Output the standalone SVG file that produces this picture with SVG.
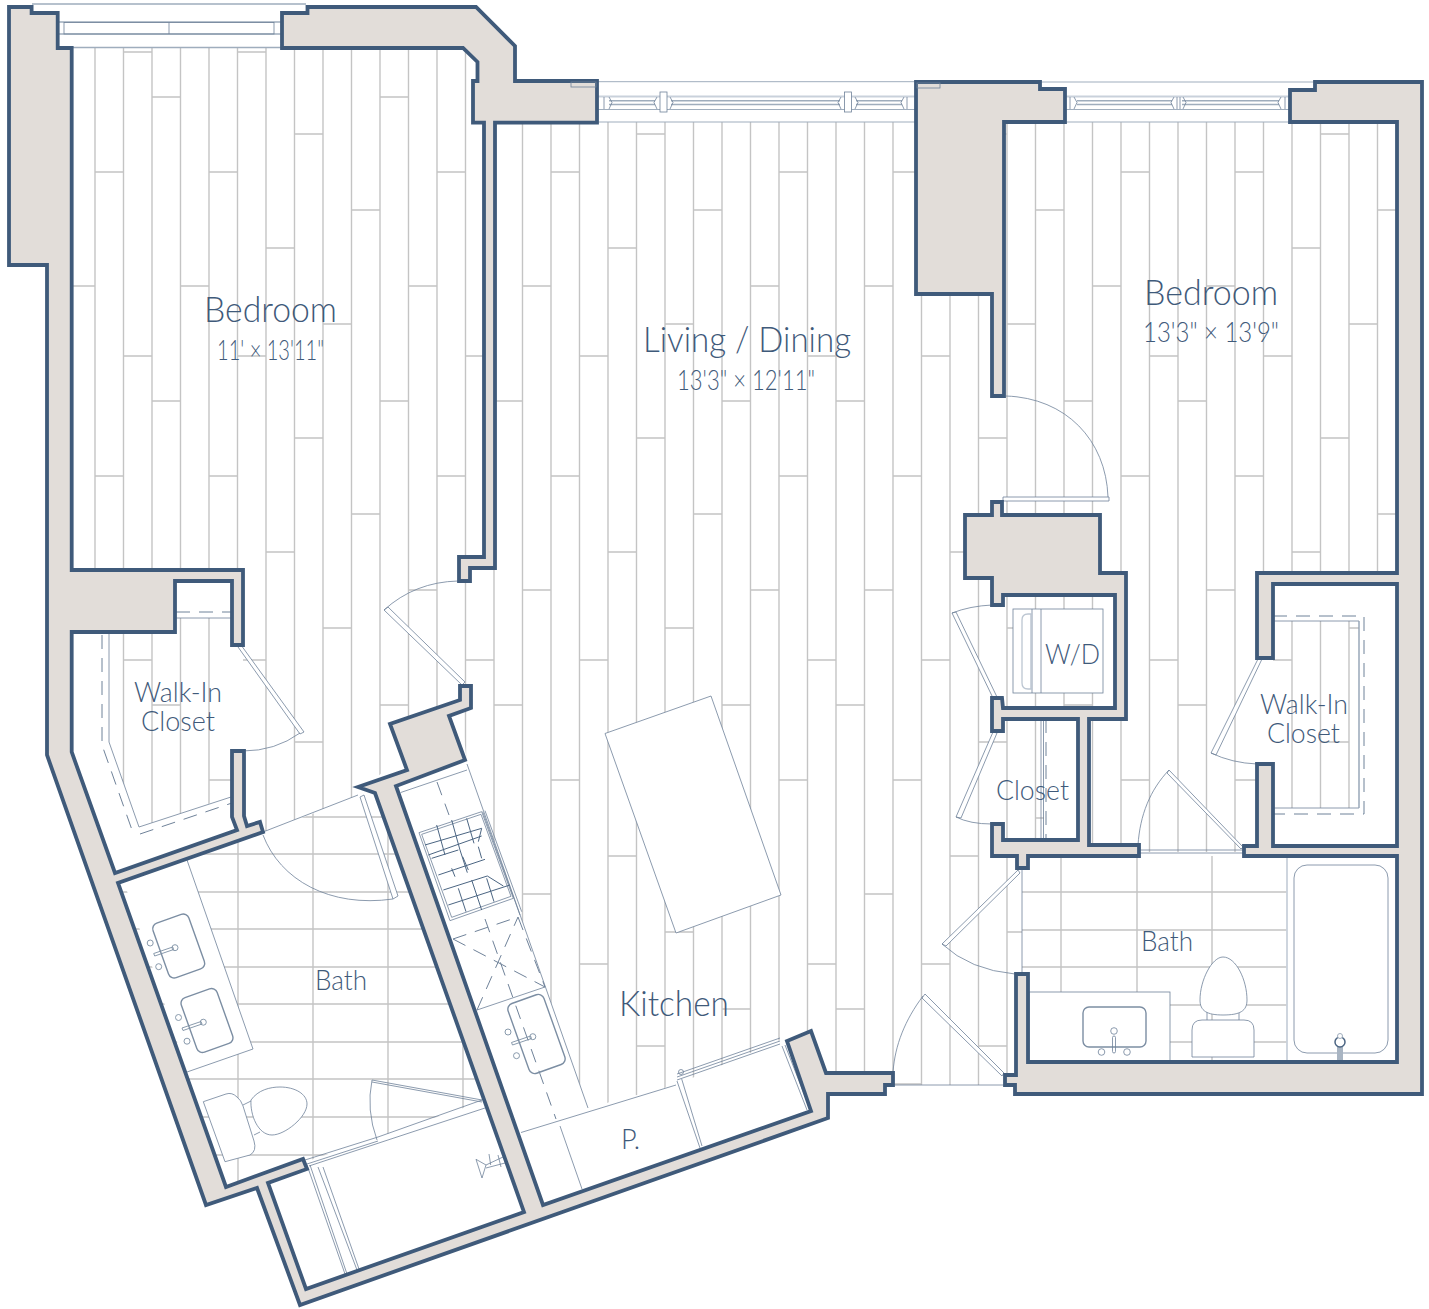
<svg xmlns="http://www.w3.org/2000/svg" width="1429" height="1309" viewBox="0 0 1429 1309">
<style>
.wall{fill:#e2ddd9;stroke:#3f5a7a;stroke-width:3.8;stroke-linejoin:miter}
.t{fill:none;stroke:#6f8299;stroke-width:.8}
.w{fill:#fff;stroke:#6f8299;stroke-width:.8}
.l{fill:none;stroke:#9fadbd;stroke-width:1}
.d{fill:none;stroke:#6f8299;stroke-width:1;stroke-dasharray:14 9}
.g{fill:none;stroke:#c4c4c4;stroke-width:1.4}
.s{fill:none;stroke:#7c8ea3;stroke-width:1.4}
text{font-family:Lato,"Liberation Sans",sans-serif;font-weight:300;fill:#3f5a7a;stroke:none}
</style>
<defs>
<pattern id="planks" patternUnits="userSpaceOnUse" x="50" y="0" width="342" height="304">
<path class="g" d="M16.5 0V304M45 0V304M73.5 0V304M102 0V304M130.5 0V304M159 0V304M187.5 0V304M216 0V304M244.5 0V304M273 0V304M301.5 0V304M330 0V304M16.5 286H45M45 172H73.5M73.5 52H102M102 97H130.5M130.5 286H159M159 172H187.5M187.5 52H216M216 248H244.5M244.5 134H273M273 20H301.5M301.5 210H330M330 97H342M0 97H16.5"/>
</pattern>
<clipPath id="floorClip"><polygon points="65,48 480,48 480,122 1397,122 1397,573 1260,573 1260,846 1244,846 1244,852 1022,852 1022,1000 1016,1085 894,1085 894,1074 826,1074 787,1041 676,1085 588,1108 467,764 460,700 358,795 263,832 243,820 243,570 65,570"/></clipPath>
<clipPath id="closetL"><polygon points="109,634 175,634 175,618 232,618 232,796 139,827 109,742"/></clipPath>
<clipPath id="bath1"><polygon points="263,832 358,797 375,793 487,1100 305,1162 226,1187 118,883"/></clipPath>
<g id="faucet"><circle class="s" style="stroke-width:.9" cx="-28.5" cy="-3" r="3"/><circle class="s" style="stroke-width:.9" cx="-3.7" cy="1.7" r="3"/><circle class="s" style="stroke-width:.9" cx="-20" cy="20.7" r="3"/><path class="s" style="stroke-width:.9" d="M-25 7.5L-6 1L-5 3.5L-24 10Z"/></g>
<g id="sink"><rect class="s" x="-19" y="-29" width="38" height="58" rx="6" transform="rotate(-19.6)"/><use href="#faucet"/></g>
</defs>
<rect width="1429" height="1309" fill="#fff"/>
<g id="floor">
<rect width="1429" height="1309" fill="url(#planks)" clip-path="url(#floorClip)"/>
<rect width="1429" height="1309" fill="url(#planks)" clip-path="url(#closetL)"/>
<rect x="1273" y="621" width="86" height="187" fill="url(#planks)"/>
<rect x="1044" y="719" width="34" height="121" fill="#fff"/>
<path class="g" clip-path="url(#bath1)" d="M110 817H500M110 854H500M110 892H500M110 929H500M110 967H500M110 1004H500M110 1042H500M110 1079H500M110 1117H500M110 1155H500M238 800V1200M313 800V1200M388 800V1200M463 800V1200"/>
<path class="g" d="M1022 892H1287M1022 930H1287M1022 967H1287M1022 1005H1287M1022 1042H1287M1061 856V1062M1137 856V1062M1212 856V1062"/>
<path d="M1287 856V1062" fill="none" stroke="#c9d1db" stroke-width="1.8"/>
</g>
<g id="windows">
<path class="l" d="M32 4H306M58 22H281M58 34H281M58 47.5H281M58 22V47" style="stroke-width:1.3"/>
<path d="M597 96.500H915M1065 96.500H1290" fill="none" stroke="#c9d1db" stroke-width="2"/>
<rect class="t" x="64" y="22.5" width="210" height="11.5"/><path class="t" d="M169 22.5V34"/>
<path class="l" d="M597 81.700H915M597 109.500H915M597 122H915M1041 82H1315M1065 109.500H1290M1065 122H1290"/>
<path d="M609 100.700H655M609 104.500H655M671 100.700H840M671 104.500H840M856 100.700H902M856 104.500H902M1077 100.700H1172M1077 104.500H1172M1182 100.700H1279M1182 104.500H1279" fill="none" stroke="#9fadbd" stroke-width="1.6"/>
<rect class="w" x="660" y="92" width="7" height="20"/><rect class="w" x="844.500" y="92" width="7" height="20"/>
<path class="t" d="M604 97V109M907 97V109M1070 97V109M1177 97V109M1285 97V109M1180 97V109M609 97L612 102.500L609 109M657 97L654 102.500L657 109M670 97L673 102.500L670 109M841 97L838 102.500L841 109M855 97L858 102.500L855 109M904 97L901 102.500L904 109M1074 97L1077 102.500L1074 109M1174 97L1171 102.500L1174 109M1183 97L1186 102.500L1183 109M1281 97L1278 102.500L1281 109"/>
</g>
<g id="kitchen">
<polygon points="397,785 467,764 588,1108 676,1085 780,1040 811,1111 543,1205" fill="#fff"/>
<polygon class="w" points="605,733.500 711,696 781,895 676,933"/>
<path class="t" d="M400.700 792.500L467 770M467 764L588 1108M521 1132.500L676 1085M560 1126L582 1189M677 1081L700 1148M681.700 1079L702 1146M782 1046L807 1110M785 1045L810 1109M677 1080L780 1044M677 1077L780 1041M677 1074L780 1038M477 1010L545 987"/>
<circle class="t" cx="681" cy="1072" r="2.500"/>
<path class="d" d="M437 782L449 815M485 919L556 1119M453 939L518 917M518 917L545 987M453 939L545 987M477 1010L518 917"/>
<g id="range" transform="translate(410,800) scale(.33333)">
<path d="M27 98L215 35L310 295L120 362ZM35 103L213 43L303 289L125 352ZM218 35L330 345M225 32L335 335" fill="none" stroke="#6f8299" stroke-width="2.400"/>
<path fill="none" stroke="#4a6482" stroke-width="3" d="M45 135L215 85L205 125M55 165L215 108M80 75L105 165M125 60L150 150L172 218M170 55L192 130M65 175L145 150M85 225L225 178M125 205L135 230M158 170L175 210M205 140L215 175M100 270L232 228L280 258M115 315L300 255M145 265L168 335M185 240L215 330M230 235L252 305"/>
</g>
<use href="#faucet" transform="translate(536.500,1035)"/>
<rect class="s" x="-19" y="-37" width="38" height="74" rx="6" transform="translate(536.500,1034) rotate(-19.600)"/>
</g>
<g id="bath-left">
<polygon points="187,860 253,1049 187,1072 150,960 125,885" fill="#fff"/>
<path class="t" d="M187 860L253 1049L187 1072"/>
<use href="#sink" transform="translate(178.700,946)"/>
<use href="#sink" transform="translate(207,1020.500)"/>
<path class="w" d="M203.300 1101.700L226 1094Q232 1092 237 1097Q241 1100 243 1106L254 1141Q257 1151 250 1155L225 1161.700Z"/>
<path class="w" d="M243 1105L251 1101M254 1135L260 1132"/>
<path class="w" d="M251 1100C258 1090 270 1087 280 1087C295 1087 307 1094 307 1104C307 1117 285 1135 272 1135C258 1135 250 1115 251 1100Z"/>
<path class="t" d="M305 1160L378 1137M307 1164L378 1141M378 1137L482 1100M309 1166L485 1108M372 1080L482 1100M372 1082L482 1102M372 1080Q366 1110 377 1140M307 1165L345 1274M310 1165L347 1274M318 1167L357 1270M323 1167L359 1269"/>
<path class="t" d="M476 1159.300L486 1165L482 1178ZM486 1165L503 1157M486 1168L505 1163M489 1154L490.700 1165M498 1155L501 1167"/>
</g>
<g id="bath-right">
<rect class="w" x="1029" y="992" width="141" height="70"/>
<rect class="s" x="1083" y="1007" width="63" height="40" rx="6"/>
<circle class="t" cx="1114" cy="1031" r="3.300"/><circle class="t" cx="1101.500" cy="1052" r="3.300"/><circle class="t" cx="1127" cy="1052" r="3.300"/><rect class="t" x="1112.500" y="1036" width="3" height="17" rx="1.500"/>
<path class="w" d="M1192 1057V1030Q1192 1020 1202 1020H1244Q1254 1020 1254 1030V1057Z"/>
<path class="t" d="M1207 1020V1012M1239 1020V1012"/>
<path class="w" d="M1200 1000C1200 980 1212 957 1223 957C1236 957 1247 980 1247 1000C1247 1011 1240 1015 1223 1015C1207 1015 1200 1011 1200 1000Z"/>
<rect class="t" x="1294" y="865" width="94" height="188" rx="13"/>
<rect x="1337" y="1046" width="6" height="16" fill="#a8b4c2"/>
<circle cx="1340" cy="1042" r="5" fill="#fff" stroke="#4d6684" stroke-width="1.500"/>
<circle cx="1340" cy="1036" r="2.500" fill="#fff" stroke="#9fadbd"/>
</g>
<g id="closets">
<path class="t" d="M109 633V742L139 827L231 797M176 618H232"/>
<path class="d" d="M102 635V745L132 830M140 834L232 803M176 612H232"/>
<path class="t" d="M1273 621H1359V808H1273"/>
<path class="l" d="M1359 621V808"/>
<path class="d" d="M1273 616H1364V814H1273"/>
<rect class="w" x="1013" y="609" width="90" height="84"/>
<path class="t" d="M1032 609V693M1041 609V693"/>
<path d="M1032 614H1028Q1022 614 1022 620V683Q1022 689 1028 689H1032" fill="none" stroke="#bcc6d2" stroke-width="1.300"/>
<path d="M1031 614V689" stroke="#bcc6d2" stroke-width="1.500" fill="none"/>
<path class="t" d="M1041 719V840M1043.500 719V840"/>
<path class="d" d="M1046 719V840"/>
</g>
<g id="thresholds">
<path class="t" d="M263 832L358 795M1022 868V974M894 1085H1005M1139 850H1244M1139 853H1244"/>
</g>
<g id="doors">
<polygon class="w" points="462,685 384,610 388,607 465,682"/><path class="t" d="M384 610Q415 582 458 581"/>
<polygon class="w" points="238,647 241,645 304,732 300,734"/><path class="t" d="M300 733Q275 751 243 751"/>
<polygon class="w" points="360,797 364,795 398,896 393,899"/><path class="t" d="M393 899C330 908 280 880 263 835"/>
<polygon class="w" points="1003,497 1109,497 1109,501 1003,501"/><path class="t" d="M1108 497C1106 440 1066 398 1006 396"/>
<polygon class="w" points="952,613 956,612 997,697 993,698"/><path class="t" d="M952 613Q970 606 992 605"/>
<polygon class="w" points="993,732 997,733 961,818 956,817"/><path class="t" d="M956 817Q970 824 992 824"/>
<polygon class="w" points="1258,659 1262,659 1216,755 1211,753"/><path class="t" d="M1211 753Q1232 763 1257 764"/>
<polygon class="w" points="1169,770 1243,847 1241,849 1167,773"/><path class="t" d="M1169 770C1150 790 1140 815 1138 845"/>
<polygon class="w" points="1018,870 1020,873 946,946 942,944"/><path class="t" d="M942 944Q970 970 1015 974"/>
<polygon class="w" points="925,994 1004,1073 1002,1076 922,998"/><path class="t" d="M923 996C905 1020 895 1045 893 1072"/>
</g>
<g id="walls">
<polygon class="wall" points="9,7 31.600,7 31.600,13 57.700,13 57.700,48 71.700,48 71.700,570 243,570 243,645 232,645 232,581 175,581 175,632 71.700,632 71.700,752 115,873 237,830 232,817 232,751 244,751 244,816 247,826 260,822 263,832 118,883 226,1187 303,1159 307,1169 268,1183 306,1289 524,1212 375,793 358,787 407,770 390,724 460,700 460,686 471,686 471,708 449,716 465,760 396,786 543,1205 811,1111 787,1041 811,1031 826,1073 893,1073 893,1085 885,1085 885,1094 828,1094 828,1118 300,1305 257,1188 206,1205 47,755 47,265 9,265"/>
<polygon class="wall" points="282,13 307.500,13 307.500,7 476,7 515,46 515,81 597,81 597,122.700 495,122.700 495,568 470,568 470,581 459,581 459,557 484,557 484,122.700 473,122.700 473,81 477.500,81 477.500,62 463,48 282,48"/>
<polygon class="wall" points="916,82 1040,82 1040,89 1065,89 1065,122 1004,122 1004,396 992,396 992,294 916,294"/>
<polygon class="wall" points="992,502 1002,502 1002,515 1100,515 1100,573 1126,573 1126,719 1089,719 1089,845 1139,845 1139,856 1028,856 1028,868 1017,868 1017,856 992,856 992,824 1003,824 1003,840 1078,840 1078,719 1003,719 1003,731 992,731 992,698 1002,698 1003,708 1115,708 1115,595 1003,595 1003,605 992,605 992,578 965,578 965,515 992,515"/>
<polygon class="wall" points="1315,82 1422,82 1422,1094 1015,1094 1015,1085 1005,1085 1005,1075 1016,1075 1016,974 1028,974 1028,1062 1397,1062 1397,856 1244,856 1244,846 1257,846 1257,764 1273,764 1273,846 1397,846 1397,584 1273,584 1273,658 1257,658 1257,573 1397,573 1397,122 1290,122 1290,90 1315,90"/>
<rect class="t" x="571" y="82" width="25" height="5"/>
<rect class="t" x="917" y="83" width="23" height="5"/>
</g>
<g id="labels">
<text x="204" y="322" font-size="35" textLength="133" lengthAdjust="spacingAndGlyphs">Bedroom</text>
<text x="217" y="360" font-size="27" textLength="107" lengthAdjust="spacingAndGlyphs">11' × 13'11"</text>
<text x="643" y="352" font-size="35" textLength="208" lengthAdjust="spacingAndGlyphs">Living / Dining</text>
<text x="677" y="390" font-size="27" textLength="138" lengthAdjust="spacingAndGlyphs">13'3" × 12'11"</text>
<text x="1144" y="305" font-size="35" textLength="134" lengthAdjust="spacingAndGlyphs">Bedroom</text>
<text x="1143" y="342" font-size="27" textLength="136" lengthAdjust="spacingAndGlyphs">13'3" × 13'9"</text>
<text x="134" y="702" font-size="27" textLength="88" lengthAdjust="spacingAndGlyphs">Walk-In</text>
<text x="141" y="731" font-size="27" textLength="74" lengthAdjust="spacingAndGlyphs">Closet</text>
<text x="1260" y="714" font-size="27" textLength="88" lengthAdjust="spacingAndGlyphs">Walk-In</text>
<text x="1267" y="743" font-size="27" textLength="73" lengthAdjust="spacingAndGlyphs">Closet</text>
<text x="1045" y="664" font-size="28" textLength="55" lengthAdjust="spacingAndGlyphs">W/D</text>
<text x="996" y="800" font-size="28" textLength="73" lengthAdjust="spacingAndGlyphs">Closet</text>
<text x="315" y="990" font-size="28" textLength="52" lengthAdjust="spacingAndGlyphs">Bath</text>
<text x="1141" y="951" font-size="28" textLength="52" lengthAdjust="spacingAndGlyphs">Bath</text>
<text x="619" y="1016" font-size="35" textLength="110" lengthAdjust="spacingAndGlyphs">Kitchen</text>
<text x="621" y="1149" font-size="28" textLength="19" lengthAdjust="spacingAndGlyphs">P.</text>
</g>
</svg>
